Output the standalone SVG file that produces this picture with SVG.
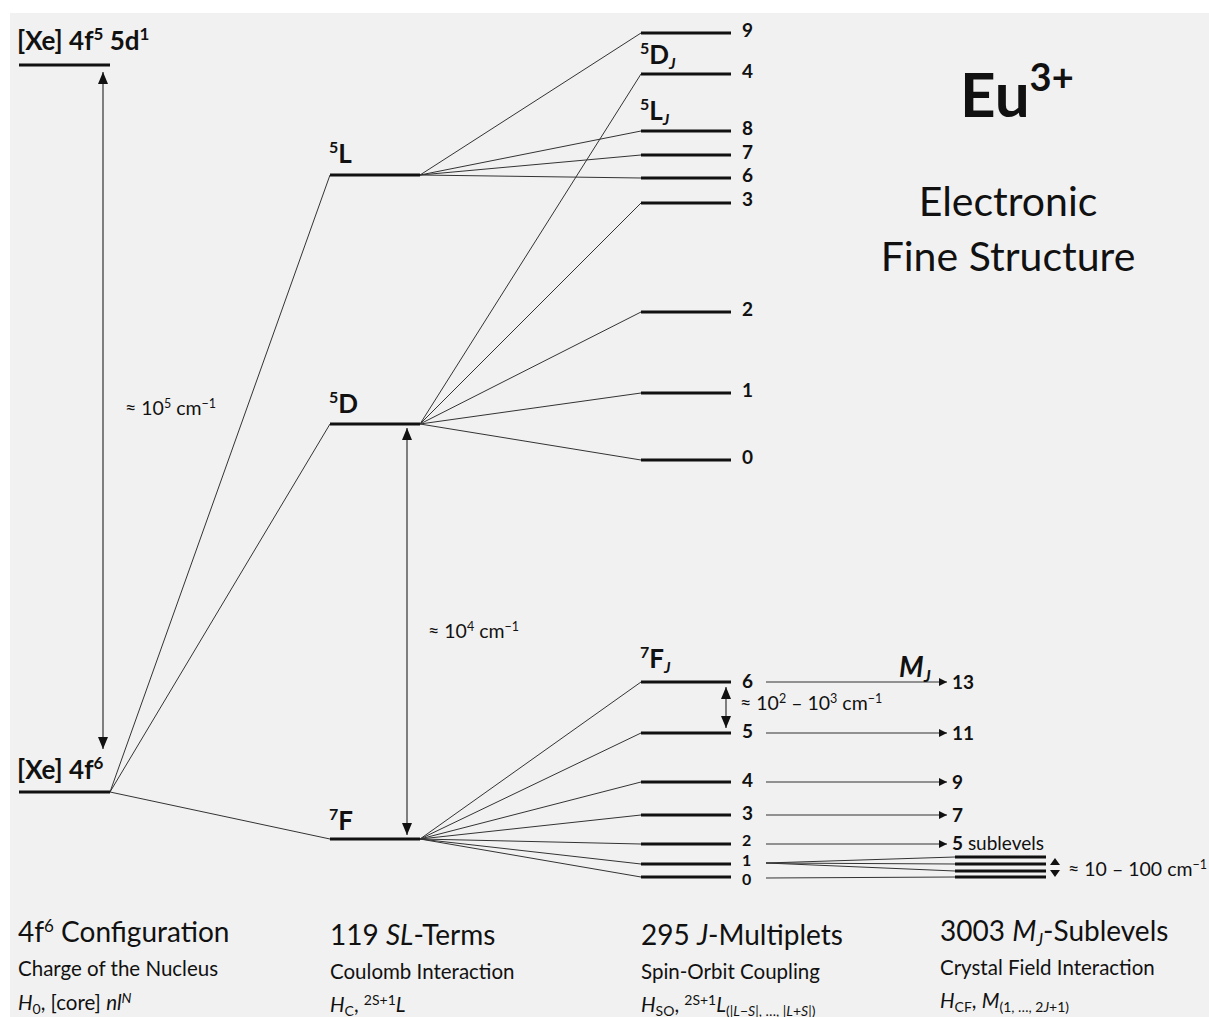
<svg xmlns="http://www.w3.org/2000/svg" width="1209" height="1017" viewBox="0 0 1209 1017">
<style>
text{font-family:Lato,"Open Sans","Liberation Sans",sans-serif;fill:#111}
.b{font-weight:bold}
.lvl{stroke:#111;stroke-width:3;fill:none}
.con{stroke:#333;stroke-width:1;fill:none}
.arr{stroke:#333;stroke-width:1.2;fill:none}
.num{font-size:19px;font-weight:bold}
.sm{font-size:16px}
.term{font-size:26px;font-weight:bold}
.gap{font-size:19.5px}
.h1{font-size:28px}
.h2{font-size:20.5px}
</style>
<defs>
<marker id="ah" viewBox="0 0 12 10" refX="12" refY="5" markerWidth="12" markerHeight="10" markerUnits="userSpaceOnUse" orient="auto-start-reverse">
<path d="M0,0 L12,5 L0,10 Z" fill="#111"/>
</marker>
<marker id="ahs" viewBox="0 0 8 8" refX="8" refY="4" markerWidth="8" markerHeight="8" markerUnits="userSpaceOnUse" orient="auto">
<path d="M0,0 L8,4 L0,8 Z" fill="#111"/>
</marker>
</defs>
<rect x="10" y="13" width="1199" height="1004" fill="#f1f1f1"/>

<g id="connectors">
<line class="con" x1="110" y1="792" x2="330" y2="175"/>
<line class="con" x1="110" y1="792" x2="330" y2="424"/>
<line class="con" x1="110" y1="792" x2="330" y2="839"/>
<line class="con" x1="420" y1="175" x2="641" y2="33"/>
<line class="con" x1="420" y1="175" x2="641" y2="131"/>
<line class="con" x1="420" y1="175" x2="641" y2="155"/>
<line class="con" x1="420" y1="175" x2="641" y2="178"/>
<line class="con" x1="420" y1="424" x2="641" y2="74"/>
<line class="con" x1="420" y1="424" x2="641" y2="203"/>
<line class="con" x1="420" y1="424" x2="641" y2="312"/>
<line class="con" x1="420" y1="424" x2="641" y2="393"/>
<line class="con" x1="420" y1="424" x2="641" y2="460"/>
<line class="con" x1="420" y1="839" x2="641" y2="682"/>
<line class="con" x1="420" y1="839" x2="641" y2="733"/>
<line class="con" x1="420" y1="839" x2="641" y2="782"/>
<line class="con" x1="420" y1="839" x2="641" y2="815"/>
<line class="con" x1="420" y1="839" x2="641" y2="844"/>
<line class="con" x1="420" y1="839" x2="641" y2="864"/>
<line class="con" x1="420" y1="839" x2="641" y2="877"/>
<line class="arr" x1="766" y1="682" x2="947" y2="682" marker-end="url(#ahs)"/>
<line class="arr" x1="766" y1="733" x2="947" y2="733" marker-end="url(#ahs)"/>
<line class="arr" x1="766" y1="782" x2="947" y2="782" marker-end="url(#ahs)"/>
<line class="arr" x1="766" y1="815" x2="947" y2="815" marker-end="url(#ahs)"/>
<line class="arr" x1="766" y1="844" x2="947" y2="844" marker-end="url(#ahs)"/>
<line class="con" x1="766" y1="863" x2="955" y2="857"/>
<line class="con" x1="766" y1="863" x2="955" y2="864"/>
<line class="con" x1="766" y1="863" x2="955" y2="871"/>
<line class="con" x1="766" y1="878" x2="955" y2="877"/>
<line class="arr" x1="103" y1="72" x2="103" y2="749" marker-start="url(#ah)" marker-end="url(#ah)"/>
<line class="arr" x1="407" y1="428" x2="407" y2="835" marker-start="url(#ah)" marker-end="url(#ah)"/>
<line class="arr" x1="726" y1="687" x2="726" y2="728" marker-start="url(#ah)" marker-end="url(#ah)"/>
<path d="M1050,865 L1055,858 L1060,865 Z M1050,870 L1055,877 L1060,870 Z" fill="#111"/>
</g>

<g id="config-excited">
<line class="lvl" x1="19" y1="65" x2="110" y2="65"/>
<text class="term" x="17" y="50" font-size="28">[Xe] 4f<tspan font-size="17" dy="-10">5</tspan><tspan dy="10"> 5d</tspan><tspan font-size="17" dy="-10">1</tspan></text>
</g>
<g id="config-ground">
<line class="lvl" x1="19" y1="792" x2="110" y2="792"/>
<text class="term" x="17" y="779" font-size="28">[Xe] 4f<tspan font-size="17" dy="-10">6</tspan></text>
</g>
<text class="gap" x="125" y="415">≈ 10<tspan font-size="12.5" dy="-7">5</tspan><tspan dy="7"> cm</tspan><tspan font-size="12.5" dy="-7">−1</tspan></text>

<g id="term-5L">
<line class="lvl" x1="330" y1="175" x2="420" y2="175"/>
<text class="term" x="329" y="163"><tspan font-size="16" dy="-10">5</tspan><tspan dy="10">L</tspan></text>
</g>
<g id="term-5D">
<line class="lvl" x1="330" y1="424" x2="420" y2="424"/>
<text class="term" x="329" y="413"><tspan font-size="16" dy="-10">5</tspan><tspan dy="10">D</tspan></text>
</g>
<g id="term-7F">
<line class="lvl" x1="330" y1="839" x2="420" y2="839"/>
<text class="term" x="329" y="830"><tspan font-size="16" dy="-10">7</tspan><tspan dy="10">F</tspan></text>
</g>
<text class="gap" x="428" y="638">≈ 10<tspan font-size="12.5" dy="-7">4</tspan><tspan dy="7"> cm</tspan><tspan font-size="12.5" dy="-7">−1</tspan></text>

<g id="multiplets-upper">
<line class="lvl" x1="641" y1="33" x2="731" y2="33"/><text class="num" x="742" y="37">9</text>
<line class="lvl" x1="641" y1="74" x2="731" y2="74"/><text class="num" x="742" y="78">4</text>
<line class="lvl" x1="641" y1="131" x2="731" y2="131"/><text class="num" x="742" y="135">8</text>
<line class="lvl" x1="641" y1="155" x2="731" y2="155"/><text class="num" x="742" y="159">7</text>
<line class="lvl" x1="641" y1="178" x2="731" y2="178"/><text class="num" x="742" y="182">6</text>
<line class="lvl" x1="641" y1="203" x2="731" y2="203"/><text class="num" x="742" y="206">3</text>
<line class="lvl" x1="641" y1="312" x2="731" y2="312"/><text class="num" x="742" y="316">2</text>
<line class="lvl" x1="641" y1="393" x2="731" y2="393"/><text class="num" x="742" y="397">1</text>
<line class="lvl" x1="641" y1="460" x2="731" y2="460"/><text class="num" x="742" y="464">0</text>
<text class="term" x="640" y="64"><tspan font-size="16" dy="-10">5</tspan><tspan dy="10">D</tspan><tspan font-size="16" font-style="italic" dy="5">J</tspan></text>
<text class="term" x="640" y="120"><tspan font-size="16" dy="-10">5</tspan><tspan dy="10">L</tspan><tspan font-size="16" font-style="italic" dy="5">J</tspan></text>
</g>

<g id="multiplets-7F">
<text class="term" x="640" y="668"><tspan font-size="16" dy="-10">7</tspan><tspan dy="10">F</tspan><tspan font-size="16" font-style="italic" dy="5">J</tspan></text>
<line class="lvl" x1="641" y1="682" x2="731" y2="682"/><text class="num" x="742" y="688">6</text>
<line class="lvl" x1="641" y1="733" x2="731" y2="733"/><text class="num" x="742" y="738">5</text>
<line class="lvl" x1="641" y1="782" x2="731" y2="782"/><text class="num" x="742" y="787">4</text>
<line class="lvl" x1="641" y1="815" x2="731" y2="815"/><text class="num" x="742" y="820">3</text>
<line class="lvl" x1="641" y1="844" x2="731" y2="844"/><text class="num sm" x="742" y="846">2</text>
<line class="lvl" x1="641" y1="864" x2="731" y2="864"/><text class="num sm" x="742" y="865.5">1</text>
<line class="lvl" x1="641" y1="877" x2="731" y2="877"/><text class="num sm" x="742" y="885">0</text>
</g>
<text class="gap" x="740" y="710">≈ 10<tspan font-size="12.5" dy="-7">2</tspan><tspan dy="7"> – 10</tspan><tspan font-size="12.5" dy="-7">3</tspan><tspan dy="7"> cm</tspan><tspan font-size="12.5" dy="-7">−1</tspan></text>

<g id="sublevels">
<text x="899" y="677" font-size="28" font-weight="bold" font-style="italic">M<tspan font-size="17" dy="5">J</tspan></text>
<text class="num" x="952" y="689">13</text>
<text class="num" x="952" y="740">11</text>
<text class="num" x="952" y="789">9</text>
<text class="num" x="952" y="822">7</text>
<text class="num" x="952" y="850">5<tspan font-weight="normal"> sublevels</tspan></text>
<line class="lvl" x1="955" y1="857" x2="1046" y2="857"/>
<line class="lvl" x1="955" y1="864" x2="1046" y2="864"/>
<line class="lvl" x1="955" y1="871" x2="1046" y2="871"/>
<line class="lvl" x1="955" y1="877" x2="1046" y2="877"/>
<text class="gap" x="1068" y="876">≈ 10 – 100 cm<tspan font-size="12.5" dy="-7">−1</tspan></text>
</g>

<g id="title">
<text x="960" y="117" font-size="62" font-weight="bold">Eu<tspan font-size="38" dy="-26">3+</tspan></text>
<text x="1008" y="216" font-size="41" text-anchor="middle">Electronic</text>
<text x="1008" y="271" font-size="41" text-anchor="middle">Fine Structure</text>
</g>

<g id="captions">
<text class="h1" x="18" y="942">4f<tspan font-size="17" dy="-10">6</tspan><tspan dy="10"> Configuration</tspan></text>
<text class="h2" x="18" y="976">Charge of the Nucleus</text>
<text class="h2" x="18" y="1010"><tspan font-style="italic">H</tspan><tspan font-size="14" dy="4">0</tspan><tspan dy="-4">, [core] </tspan><tspan font-style="italic">nl</tspan><tspan font-size="14" font-style="italic" dy="-7">N</tspan></text>

<text class="h1" x="330" y="945">119 <tspan font-style="italic">SL</tspan>-Terms</text>
<text class="h2" x="330" y="979">Coulomb Interaction</text>
<text class="h2" x="330" y="1012"><tspan font-style="italic">H</tspan><tspan font-size="14" dy="4">C</tspan><tspan dy="-4">, </tspan><tspan font-size="14" dy="-7">2S+1</tspan><tspan font-style="italic" dy="7">L</tspan></text>

<text class="h1" x="641" y="945">295 <tspan font-style="italic">J</tspan>-Multiplets</text>
<text class="h2" x="641" y="979">Spin-Orbit Coupling</text>
<text class="h2" x="641" y="1012"><tspan font-style="italic">H</tspan><tspan font-size="14" dy="4">SO</tspan><tspan dy="-4">, </tspan><tspan font-size="14" dy="-7">2S+1</tspan><tspan font-style="italic" dy="7">L</tspan><tspan font-size="14" dy="4">(|</tspan><tspan font-size="14" font-style="italic">L</tspan><tspan font-size="14">−</tspan><tspan font-size="14" font-style="italic">S</tspan><tspan font-size="14">|, …, |</tspan><tspan font-size="14" font-style="italic">L</tspan><tspan font-size="14">+</tspan><tspan font-size="14" font-style="italic">S</tspan><tspan font-size="14">|)</tspan></text>

<text class="h1" x="940" y="941">3003 <tspan font-style="italic">M</tspan><tspan font-size="17" font-style="italic" dy="5">J</tspan><tspan dy="-5">-Sublevels</tspan></text>
<text class="h2" x="940" y="975">Crystal Field Interaction</text>
<text class="h2" x="940" y="1008"><tspan font-style="italic">H</tspan><tspan font-size="14" dy="4">CF</tspan><tspan dy="-4">, </tspan><tspan font-style="italic">M</tspan><tspan font-size="14" dy="4">(1, …, 2</tspan><tspan font-size="14" font-style="italic">J</tspan><tspan font-size="14">+1)</tspan></text>
</g>
</svg>
